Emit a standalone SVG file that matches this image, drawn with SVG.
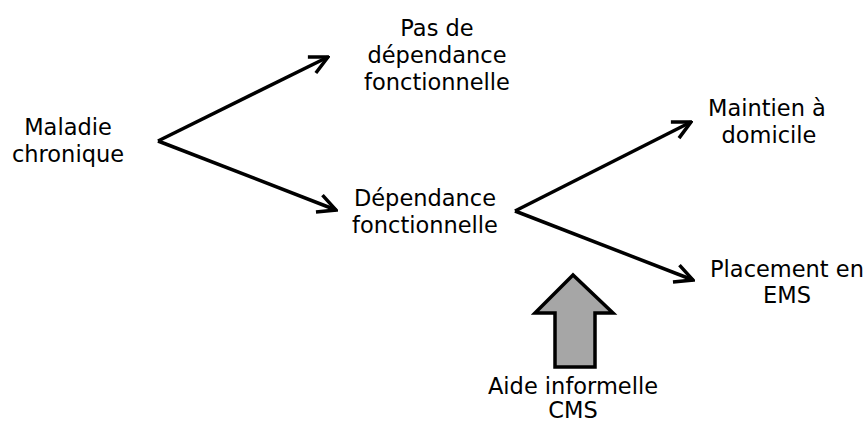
<svg xmlns="http://www.w3.org/2000/svg" width="863" height="424" viewBox="0 0 863 424">
<style>
text{font-family:"DejaVu Sans",Verdana,sans-serif;font-size:22.5px;fill:#000;text-anchor:middle}
.c{fill:none;stroke:#000;stroke-width:3.5;stroke-linejoin:miter}
</style>
<defs>
<marker id="ah" viewBox="0 0 22 22" refX="20" refY="11" markerWidth="22" markerHeight="22" markerUnits="userSpaceOnUse" orient="auto">
<path d="M2,2 L20,11 L2,20" fill="none" stroke="#000" stroke-width="3.5"/>
</marker>
</defs>
<rect width="863" height="424" fill="#fff"/>
<g id="connectors">
<path class="c" d="M158,141 L328,57" marker-end="url(#ah)"/>
<path class="c" d="M158,141 L336,210" marker-end="url(#ah)"/>
<path class="c" d="M515,211 L691,122" marker-end="url(#ah)"/>
<path class="c" d="M515,211 L693,280" marker-end="url(#ah)"/>
<path d="M573,275 L535,313 L555,313 L555,367 L595,367 L595,313 L613,313 Z" fill="#a6a6a6" stroke="#000" stroke-width="3.5"/>
</g>
<g id="maladie"><text x="68" y="135">Maladie</text><text x="68" y="162">chronique</text></g>
<g id="pasdep"><text x="437" y="36">Pas de</text><text x="437" y="63">dépendance</text><text x="437" y="90">fonctionnelle</text></g>
<g id="dep"><text x="425" y="206">Dépendance</text><text x="425" y="233">fonctionnelle</text></g>
<g id="maintien"><text x="767" y="116">Maintien à</text><text x="769" y="143">domicile</text></g>
<g id="placement"><text x="787" y="277">Placement en</text><text x="787" y="303">EMS</text></g>
<g id="aide"><text x="573" y="394">Aide informelle</text><text x="573" y="418">CMS</text></g>
</svg>
